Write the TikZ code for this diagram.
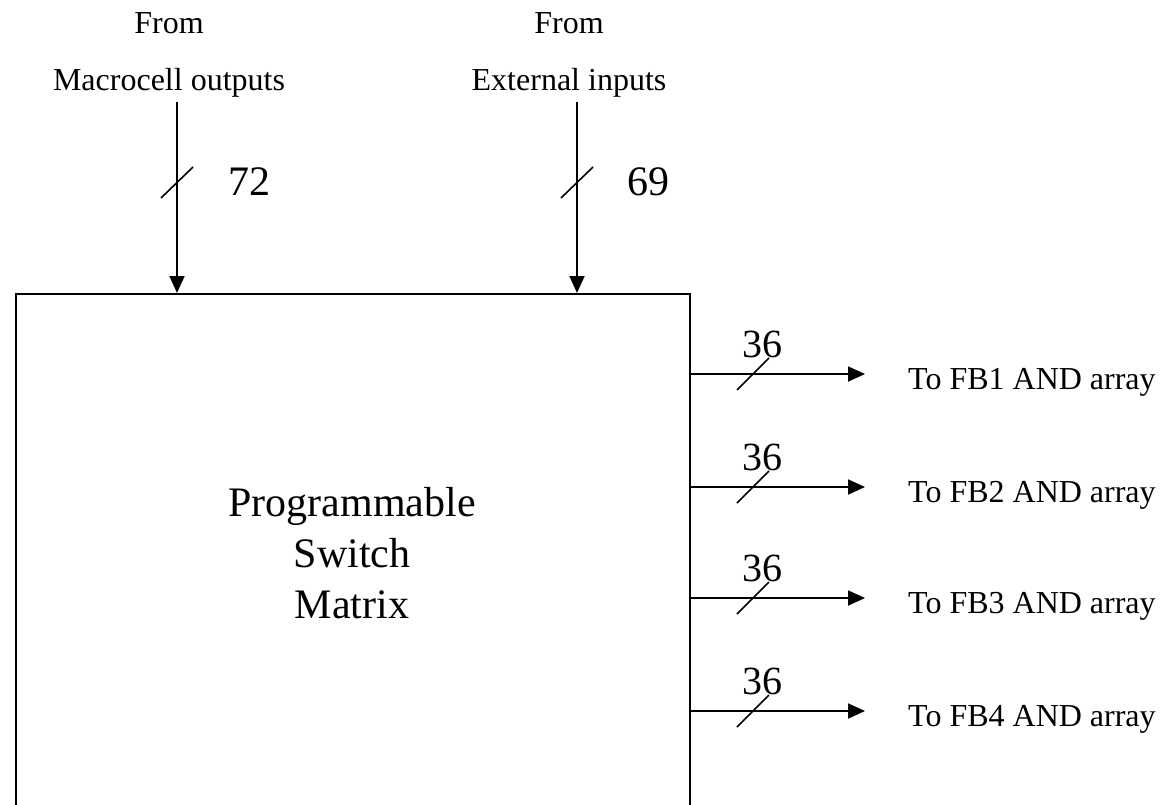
\documentclass[tikz,border=0pt]{standalone}
\usepackage{fontspec}
\setmainfont{Liberation Serif}
\usetikzlibrary{arrows.meta}

\tikzset{
	bus/.style={line width=1.8pt, -{Triangle[length=17pt,width=15pt]}},
	buscut/.style={line width=1.6pt},
	smalltext/.style={font=\fontsize{32}{38}\selectfont, inner sep=0pt},
	bigtext/.style={font=\fontsize{42}{51}\selectfont, inner sep=0pt}
}

\begin{document}
\begin{tikzpicture}[x=1pt, y=-1pt]
				\useasboundingbox (0, 0) rectangle (1164, 804);
				\clip (0, 0) rectangle (1164, 804);

				%%the switch matrix
				\node (psm) [draw, line width=2.4pt, anchor=north west, minimum width=674, minimum height=600] at (15, 293) {};
				\node (psmlabel) [bigtext, align=center] at (352, 553) {Programmable\\Switch\\Matrix};

				%%inputs from the macrocells
				\node (mcfrom) [smalltext, anchor=base] at (169, 33) {From};
				\node (mcname) [smalltext, anchor=base] at (169, 90) {Macrocell outputs};
				\coordinate (mctop) at (177, 102);
				\draw[bus] (mctop) to (mctop |- psm.north);
				\draw[buscut] (161, 198) to (193, 167);
				\node (mcwidth) [bigtext] at (249, 182) {72};

				%%inputs from the pins
				\node (extfrom) [smalltext, anchor=base] at (569, 33) {From};
				\node (extname) [smalltext, anchor=base] at (569, 90) {External inputs};
				\coordinate (exttop) at (577, 102);
				\draw[bus] (exttop) to (exttop |- psm.north);
				\draw[buscut] (561, 198) to (593, 167);
				\node (extwidth) [bigtext] at (648, 182) {69};

				%%outputs to the function blocks
				\foreach \i/\y in {1/374, 2/487, 3/598, 4/711} {
					\coordinate (out\i) at (689, \y);
					\coordinate (tip\i) at (865, \y);
					\draw[bus] (out\i) to (tip\i);
					\draw[buscut] (737, \y+16) to (769, \y-16);
					\node (outwidth\i) [bigtext, font=\fontsize{40}{48}\selectfont] at (762, \y-30) {36};
					\node (fb\i) [smalltext, anchor=base west] at (908, \y+15) {To FB\i{} AND array};
				}
\end{tikzpicture}
\end{document}
